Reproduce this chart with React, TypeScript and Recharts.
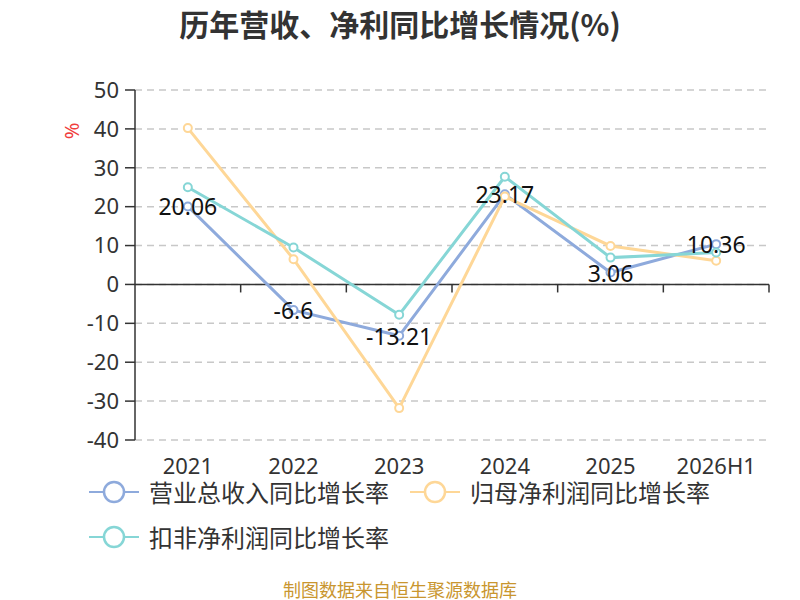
import React from "react";
import { LineChart, Line, XAxis, YAxis, CartesianGrid, ReferenceLine, LabelList } from "recharts";

const categories = ["2021", "2022", "2023", "2024", "2025", "2026H1"];
const revenueGrowth = [20.06, -6.6, -13.21, 23.17, 3.06, 10.36];
const netProfitGrowth = [40.2, 6.5, -31.8, 22.6, 9.9, 6.1];
const deductedProfitGrowth = [25.0, 9.5, -7.8, 27.7, 6.9, 8.2];
const yTicks = [-40, -30, -20, -10, 0, 10, 20, 30, 40, 50];

const series = [
  { key: "revenue", name: "营业总收入同比增长率", color: "#8eaadc", label: true },
  { key: "netProfit", name: "归母净利润同比增长率", color: "#fed797", label: false },
  { key: "deducted", name: "扣非净利润同比增长率", color: "#86d6d6", label: false },
];

const data = categories.map((c, i) => ({
  name: c,
  revenue: revenueGrowth[i],
  netProfit: netProfitGrowth[i],
  deducted: deductedProfitGrowth[i],
}));

const FONT = '"Noto Sans", "Noto Sans CJK SC", sans-serif';
const CJK = '"Noto Sans CJK SC", sans-serif';

// x axis drawn at zero, ticks between categories
const ZeroAxis = (props: any) => {
  const { x1, x2, y1 } = props;
  const n = categories.length;
  const step = (x2 - x1) / n;
  return (
    <g>
      <line x1={x1} x2={x2} y1={y1} y2={y1} stroke="#333" strokeWidth={1.5} />
      {categories.map((_, i) => (
        <line
          key={i}
          x1={x1 + (i + 1) * step}
          x2={x1 + (i + 1) * step}
          y1={y1}
          y2={y1 + 8}
          stroke="#333"
          strokeWidth={1.5}
        />
      ))}
    </g>
  );
};

const ValueLabel = (props: any) => {
  const { x, y, value } = props;
  return (
    <text x={x} y={y} textAnchor="middle" dominantBaseline="central" fontSize={23} fill="#111" fontFamily={FONT}>
      {value}
    </text>
  );
};

const LegendIcon = ({ color }: { color: string }) => (
  <svg width={50} height={26}>
    <line x1={0} x2={50} y1={13} y2={13} stroke={color} strokeWidth={2} />
    <circle cx={25} cy={13} r={10} fill="#fff" stroke={color} strokeWidth={2.5} />
  </svg>
);

export default function App() {
  return (
    <div style={{ position: "absolute", left: 0, top: 0, width: 800, height: 600, background: "#fff", fontFamily: FONT }}>
      <div
        style={{
          position: "absolute",
          top: 0,
          left: 0,
          width: 800,
          height: 46,
          lineHeight: "46px",
          textAlign: "center",
          fontSize: 30,
          fontWeight: "bold",
          color: "#333",
          fontFamily: CJK,
        }}
      >
        历年营收、净利同比增长情况(%)
      </div>
      <div
        style={{
          position: "absolute",
          left: 60,
          top: 119,
          width: 24,
          height: 24,
          lineHeight: "24px",
          textAlign: "center",
          fontSize: 20,
          color: "#f03c3c",
          transform: "rotate(-90deg)",
        }}
      >
        %
      </div>
      <LineChart width={800} height={600} data={data} margin={{ top: 90, right: 31, bottom: 130, left: 55 }}>
        <CartesianGrid vertical={false} stroke="#c8c8c8" strokeWidth={1.5} strokeDasharray="7 5" />
        <XAxis
          dataKey="name"
          scale="band"
          axisLine={false}
          tickLine={false}
          height={30}
          tickMargin={12}
          tick={{ fontSize: 22, fill: "#333", fontFamily: FONT }}
          interval={0}
        />
        <YAxis
          width={80}
          domain={[-40, 50]}
          ticks={yTicks}
          interval={0}
          axisLine={{ stroke: "#333", strokeWidth: 1.5 }}
          tickLine={{ stroke: "#333", strokeWidth: 1.5 }}
          tickSize={10}
          tickMargin={6}
          tick={{ fontSize: 22, fill: "#333", fontFamily: FONT }}
        />
        <ReferenceLine y={0} shape={ZeroAxis} />
        {series.map((s) => (
          <Line
            key={s.key}
            dataKey={s.key}
            name={s.name}
            stroke={s.color}
            strokeWidth={3}
            dot={{ r: 4, fill: "#fff", stroke: s.color, strokeWidth: 2 }}
            activeDot={false}
            isAnimationActive={false}
          >
            {s.label && <LabelList dataKey={s.key} content={ValueLabel} />}
          </Line>
        ))}
      </LineChart>
      <div
        style={{
          position: "absolute",
          left: 89,
          top: 479,
          width: 690,
          display: "flex",
          flexWrap: "wrap",
          columnGap: 21,
          rowGap: 19,
        }}
      >
        {series.map((s) => (
          <div key={s.key} style={{ display: "flex", alignItems: "center", height: 26 }}>
            <LegendIcon color={s.color} />
            <span style={{ marginLeft: 10, fontSize: 24, lineHeight: "26px", color: "#333", fontFamily: CJK }}>
              {s.name}
            </span>
          </div>
        ))}
      </div>
      <div
        style={{
          position: "absolute",
          left: 0,
          top: 579,
          width: 800,
          height: 21,
          textAlign: "center",
          fontSize: 18,
          lineHeight: "21px",
          color: "#c9962f",
          fontFamily: CJK,
        }}
      >
        制图数据来自恒生聚源数据库
      </div>
    </div>
  );
}
